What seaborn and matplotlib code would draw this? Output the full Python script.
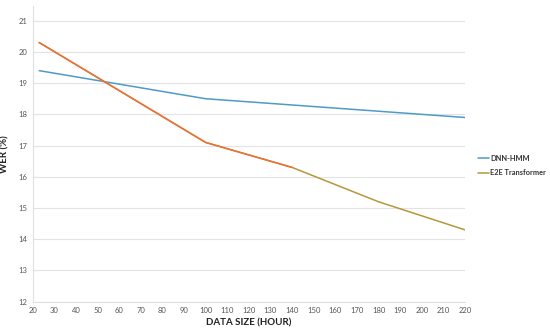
import matplotlib
matplotlib.use('Agg')
import matplotlib.pyplot as plt
import seaborn as sns
import pandas as pd

# data
hours = [23, 100, 140, 180, 220]
dnn_hmm = [19.4, 18.5, 18.3, 18.1, 17.9]
e2e = [20.3, 17.1, 16.3, 15.2, 14.3]
x_ticks = list(range(20, 221, 10))
y_ticks = list(range(12, 22))

blue = '#4E9BC7'
orange = '#EE6E36'
gold = '#B7973B'

sns.set_theme(style='white')
plt.rcParams['font.family'] = ['Lato', 'DejaVu Sans']

df = pd.DataFrame({'hours': hours, 'DNN-HMM': dnn_hmm, 'E2E Transformer': e2e})

fig = plt.figure(figsize=(5.5, 3.3), dpi=100)
ax = fig.add_axes([0.0595, 0.0858, 0.786, 0.896])

sns.lineplot(data=df, x='hours', y='DNN-HMM', ax=ax, color=blue, lw=1.1, label='DNN-HMM')
sns.lineplot(data=df, x='hours', y='E2E Transformer', ax=ax, color=gold, lw=1.1, label='E2E Transformer')
# first part of the E2E line is drawn orange in the original
early = df[df['hours'] <= 140]
sns.lineplot(data=early, x='hours', y='E2E Transformer', ax=ax, color=orange, lw=1.1, legend=False)

ax.set_xlim(20, 220)
ax.set_ylim(12, 21.47)
ax.set_xticks(x_ticks)
ax.set_yticks(y_ticks)
ax.tick_params(axis='both', labelsize=5.5, colors='#555555', length=0, pad=4)
ax.grid(axis='y', color='#E3E3E3', lw=0.8)
ax.set_axisbelow(True)

for s in ['top', 'right']:
    ax.spines[s].set_visible(False)
ax.spines['left'].set_color('#E0E0E0')
ax.spines['bottom'].set_color('#E0E0E0')
ax.spines['left'].set_linewidth(0.8)
ax.spines['bottom'].set_linewidth(0.8)

ax.set_xlabel('DATA SIZE (HOUR)', fontsize=7, fontweight='bold', color='#222222', labelpad=3)
ax.set_ylabel('WER (%)', fontsize=7, fontweight='bold', color='#222222', labelpad=6)

leg = ax.legend(loc='center left', bbox_to_anchor=(1.015, 0.46), frameon=False,
                fontsize=5.3, handlelength=1.5, handletextpad=0.15, labelspacing=1.0)
for t in leg.get_texts():
    t.set_fontweight('bold')
    t.set_color('#333333')

plt.savefig('out.png', dpi=100)
